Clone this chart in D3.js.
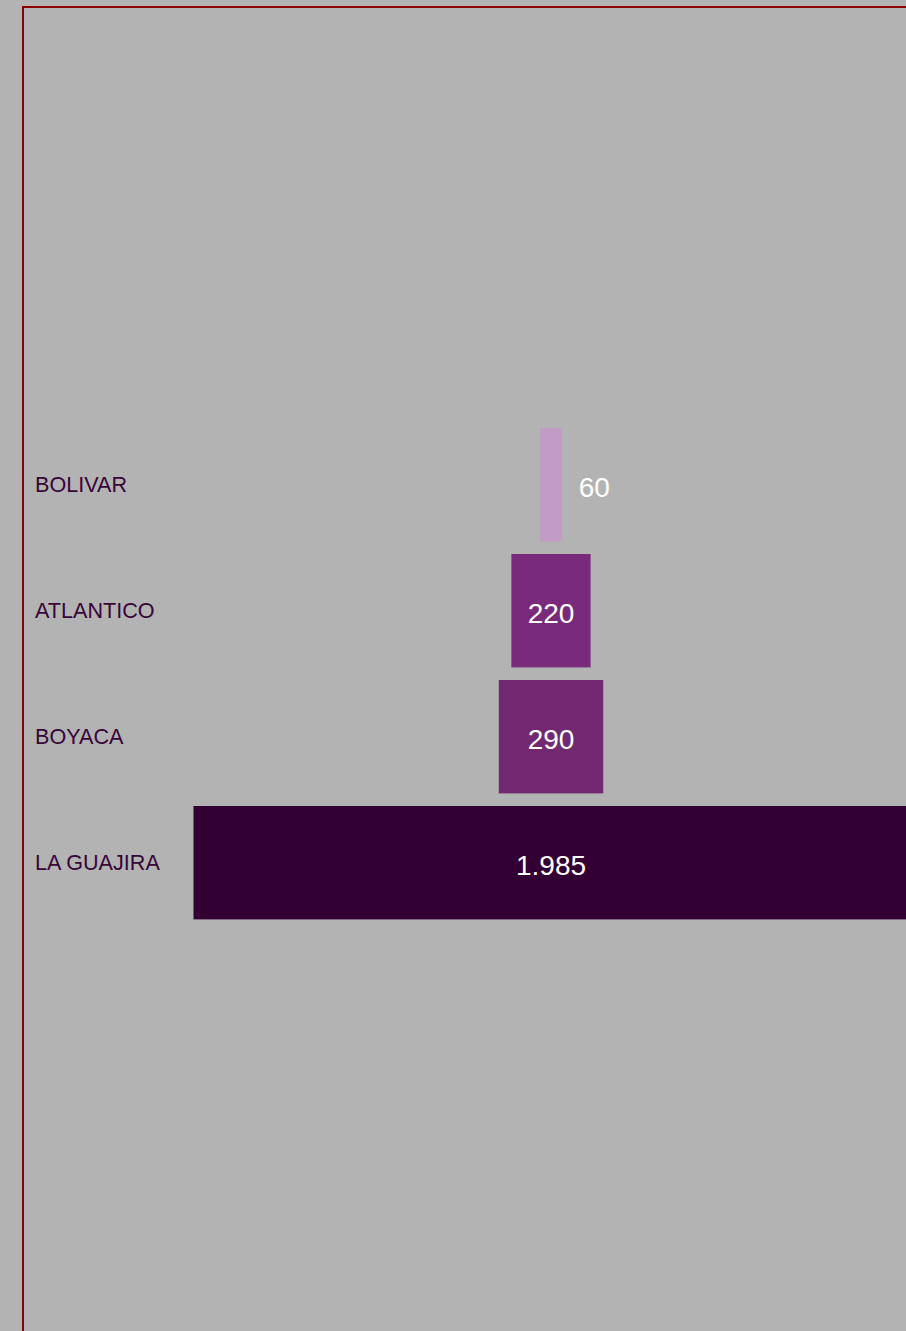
<!DOCTYPE html>
<html>
<head>
<meta charset="utf-8">
<script src="https://cdn.jsdelivr.net/npm/d3@7"></script>
<style>
  html, body { margin: 0; padding: 0; background: #b3b3b3; overflow: hidden; }
  svg { display: block; }
</style>
</head>
<body>
<svg id="chart" width="906" height="1331"></svg>
<script>
// departments, top to bottom
var departments = ["BOLIVAR", "ATLANTICO", "BOYACA", "LA GUAJIRA"];
var values = [60, 220, 290, 1985];
var colors = ["#c29bc6", "#7a2a7a", "#732971", "#330033"];

var svg = d3.select("#chart"),
    width = +svg.attr("width"),
    height = +svg.attr("height"),
    center = 551;

var locale = d3.formatLocale({decimal: ",", thousands: ".", grouping: [3], currency: ["$", ""]});
var fmt = locale.format(",d");

// frame
svg.append("rect")
  .attr("x", 23).attr("y", 7)
  .attr("width", width + 20).attr("height", height + 20)
  .attr("fill", "none")
  .attr("stroke", "#8b0000")
  .attr("stroke-width", 2);

var y = d3.scaleBand()
    .domain(departments)
    .range([415.4, 932])
    .paddingInner(0.1)
    .paddingOuter(0.1);

var x = d3.scaleLinear()
    .domain([0, d3.max(values)])
    .range([0, 715]);

var data = departments.map(function(d, i) {
  return {name: d, value: values[i], color: colors[i]};
});

var row = svg.selectAll(".row")
  .data(data)
  .enter().append("g")
  .attr("class", "row");

row.append("rect")
  .attr("x", function(d) { return center - x(d.value) / 2; })
  .attr("y", function(d) { return y(d.name); })
  .attr("width", function(d) { return x(d.value); })
  .attr("height", y.bandwidth())
  .attr("fill", function(d) { return d.color; });

row.append("text")
  .attr("x", 35)
  .attr("y", function(d) { return y(d.name) + y.bandwidth() / 2; })
  .attr("dy", "0.35em")
  .style("font", "21.6px 'Liberation Sans', Arial, sans-serif")
  .attr("fill", "#380538")
  .text(function(d) { return d.name; });

row.append("text")
  .attr("x", function(d) { return x(d.value) < 50 ? center + x(d.value) / 2 + 17 : center; })
  .attr("y", function(d) { return y(d.name) + y.bandwidth() / 2; })
  .attr("dy", "0.44em")
  .attr("text-anchor", function(d) { return x(d.value) < 50 ? "start" : "middle"; })
  .style("font", "28px 'Liberation Sans', Arial, sans-serif")
  .attr("fill", "#ffffff")
  .text(function(d) { return fmt(d.value); });
</script>
</body>
</html>
